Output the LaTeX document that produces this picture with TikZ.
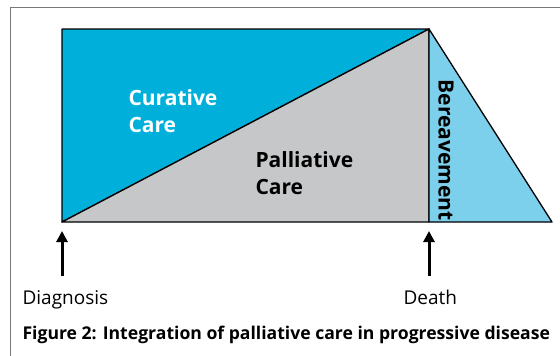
\documentclass[tikz,border=0pt]{standalone}
\usepackage{fontspec}
\setmainfont{Open Sans}
\usetikzlibrary{arrows.meta}

\definecolor{cureblue}{RGB}{0,176,219}
\definecolor{griefblue}{RGB}{125,208,236}
\definecolor{palgray}{RGB}{198,199,201}
\definecolor{framegray}{RGB}{120,120,120}

\begin{document}
\begin{tikzpicture}[x=1pt, y=-1pt,
  area/.style = {draw=black, line width=1.3pt, line join=round},
  label/.style = {font=\fontsize{21}{27}\selectfont\bfseries, align=left},
  event/.style = {font=\fontsize{19}{21}\selectfont, anchor=base west},
  arrow/.style = {line width=3pt, -{Triangle[length=11pt, width=11pt]}}
                    ]
\useasboundingbox (0,0) rectangle (560,356);
\draw [framegray, line width=1pt] (10,356) |- (560,7);

\coordinate (start) at (62,222);
\coordinate (corner) at (62,29);
\coordinate (peak) at (429,29);
\coordinate (death) at (429,222);
\coordinate (end) at (552,222);

% the three phases
\filldraw [area, fill=cureblue] (start) -- (corner) -- (peak) -- cycle;
\filldraw [area, fill=palgray] (start) -- (peak) -- (death) -- cycle;
\filldraw [area, fill=griefblue] (peak) -- (end) -- (death) -- cycle;

\node (cure) [label, text=white, anchor=west] at (125,111) {Curative\\Care};
\node (pall) [label, anchor=west] at (252,173) {Palliative\\Care};
\node (grief) [label, rotate=-90] at (446,150) {Bereavement};

% time points
\node (diagnosis) [event] at (19,304) {Diagnosis};
\node (died) [event] at (400,304) {Death};
\coordinate (dtail) at (62,276);
\coordinate (ttail) at (429,276);
\draw [arrow] (dtail) -- ([yshift=-9pt]start);
\draw [arrow] (ttail) -- ([yshift=-9pt]death);

\node (caption) [anchor=base west, font=\fontsize{17.6}{19}\selectfont\bfseries] at (19,339)
  {Figure 2: Integration of palliative care in progressive disease};
\end{tikzpicture}
\end{document}
